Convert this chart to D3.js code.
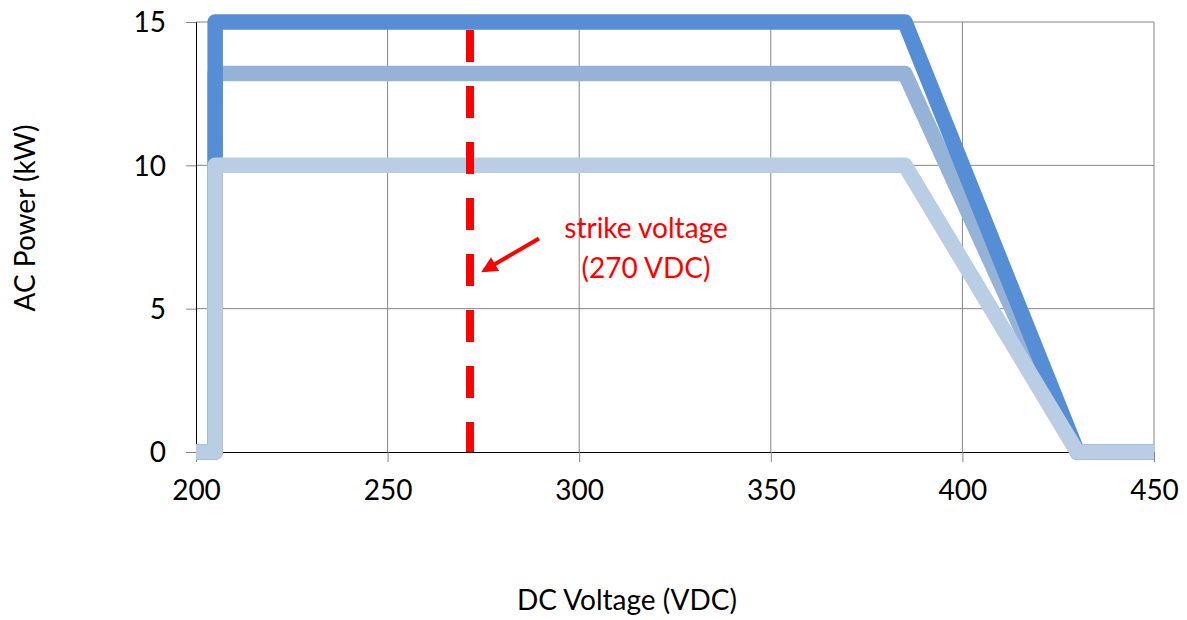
<!DOCTYPE html>
<html>
<head>
<meta charset="utf-8">
<script src="https://cdn.jsdelivr.net/npm/d3@7"></script>
<style>
  body { margin: 0; background: #fff; }
  text { font-family: Lato, "Open Sans", sans-serif; }
</style>
</head>
<body>
<svg id="chart" width="1187" height="620"></svg>
<script>
// data
const voltages = [200, 205, 205, 385, 430, 450];
const seriesNames = ["13.2 kW", "15 kW", "10 kW"];   // in drawing order
const seriesValues = [
    [0, 0, 13.2, 13.2, 0, 0],
    [0, 0, 15, 15, 0, 0],
    [0, 0, 10, 10, 0, 0]
];
const seriesColors = ["#95B3D7", "#558ED5", "#B9CDE5"];
const xTicks = [200, 250, 300, 350, 400, 450];
const yTicks = [0, 5, 10, 15];
const strikeVoltage = 271.5;
const strikeLabel = ["strike voltage", "(270 VDC)"];

const svg = d3.select("#chart");
const margin = { top: 22, right: 33, bottom: 168, left: 196 };
const width = 1187 - margin.left - margin.right;
const height = 620 - margin.top - margin.bottom;

const g = svg.append("g")
    .attr("transform", `translate(${margin.left},${margin.top})`);

const x = d3.scaleLinear().domain([200, 450]).range([0, width]);
const y = d3.scaleLinear().domain([0, 15]).range([height, 0]);

// gridlines
g.append("g")
    .selectAll("line")
    .data(yTicks.filter(d => d > 0))
    .enter().append("line")
    .attr("x1", 0).attr("x2", width)
    .attr("y1", d => y(d)).attr("y2", d => y(d))
    .attr("stroke", "#868686").attr("stroke-width", 1);

g.append("g")
    .selectAll("line")
    .data(xTicks.filter(d => d > 200))
    .enter().append("line")
    .attr("x1", d => x(d)).attr("x2", d => x(d))
    .attr("y1", 0).attr("y2", height)
    .attr("stroke", "#868686").attr("stroke-width", 1);

// axes
const xAxis = d3.axisBottom(x).tickValues(xTicks).tickSize(10).tickPadding(18);
const yAxis = d3.axisLeft(y).tickValues(yTicks).tickSize(10).tickPadding(20);

g.append("g")
    .attr("transform", `translate(0,${height})`)
    .call(xAxis)
    .call(a => a.select(".domain").attr("stroke", "#000"))
    .call(a => a.selectAll(".tick line").attr("stroke", "#868686"))
    .call(a => a.selectAll("text").style("font-size", "28px").attr("fill", "#000"));

g.append("g")
    .call(yAxis)
    .call(a => a.select(".domain").attr("stroke", "#000"))
    .call(a => a.selectAll(".tick line").attr("stroke", "#868686"))
    .call(a => a.selectAll("text").style("font-size", "28px").attr("fill", "#000").attr("dy", "0.35em"));

// series lines
const line = d3.line()
    .x((d, i) => x(voltages[i]))
    .y(d => y(d));

seriesValues.forEach((vals, i) => {
    g.append("path")
        .datum(vals)
        .attr("fill", "none")
        .attr("stroke", seriesColors[i])
        .attr("stroke-width", 15.5)
        .attr("stroke-linejoin", "round")
        .attr("stroke-linecap", "butt")
        .attr("d", line);
});

// strike voltage marker
g.append("line")
    .attr("x1", x(strikeVoltage)).attr("x2", x(strikeVoltage))
    .attr("y1", 8).attr("y2", height)
    .attr("stroke", "#FF0000")
    .attr("stroke-width", 8)
    .attr("stroke-dasharray", "32,24");

svg.append("defs").append("marker")
    .attr("id", "arrow")
    .attr("viewBox", "0 0 10 10")
    .attr("refX", 8).attr("refY", 5)
    .attr("markerWidth", 4.5).attr("markerHeight", 4)
    .attr("orient", "auto")
    .append("path")
    .attr("d", "M0,0 L10,5 L0,10 z")
    .attr("fill", "#FF0000");

g.append("line")
    .attr("x1", x(strikeVoltage) + 69).attr("y1", y(7.45))
    .attr("x2", x(strikeVoltage) + 14).attr("y2", y(6.33))
    .attr("stroke", "#FF0000")
    .attr("stroke-width", 4)
    .attr("marker-end", "url(#arrow)");

g.append("text")
    .attr("x", x(strikeVoltage) + 176)
    .attr("y", y(7.45))
    .attr("text-anchor", "middle")
    .attr("fill", "#FF0000")
    .style("font-size", "28px")
    .selectAll("tspan")
    .data(strikeLabel)
    .enter().append("tspan")
    .attr("x", x(strikeVoltage) + 176)
    .attr("dy", (d, i) => i === 0 ? 0 : 40)
    .text(d => d);

// axis titles
svg.append("text")
    .attr("x", 627)
    .attr("y", 610)
    .attr("text-anchor", "middle")
    .style("font-size", "28px")
    .text("DC Voltage (VDC)");

svg.append("text")
    .attr("transform", "translate(35,218) rotate(-90)")
    .attr("text-anchor", "middle")
    .style("font-size", "28px")
    .text("AC Power (kW)");
</script>
</body>
</html>
